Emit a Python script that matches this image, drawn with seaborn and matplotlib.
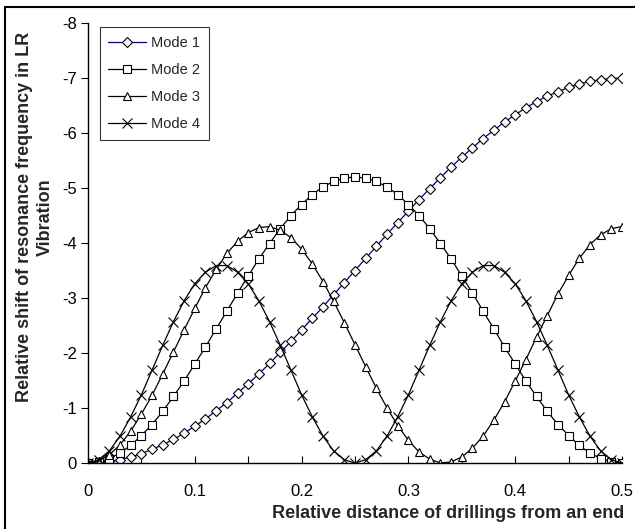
import matplotlib
matplotlib.use("Agg")
import matplotlib.pyplot as plt
from matplotlib.lines import Line2D
from matplotlib.ticker import MultipleLocator
import seaborn as sns
import pandas as pd

# ---- data ----
x_pos = [0.00, 0.01, 0.02, 0.03, 0.04, 0.05, 0.06, 0.07, 0.08, 0.09,
         0.10, 0.11, 0.12, 0.13, 0.14, 0.15, 0.16, 0.17, 0.18, 0.19,
         0.20, 0.21, 0.22, 0.23, 0.24, 0.25, 0.26, 0.27, 0.28, 0.29,
         0.30, 0.31, 0.32, 0.33, 0.34, 0.35, 0.36, 0.37, 0.38, 0.39,
         0.40, 0.41, 0.42, 0.43, 0.44, 0.45, 0.46, 0.47, 0.48, 0.49, 0.50]

mode1 = [0.00, -0.01, -0.03, -0.06, -0.11, -0.17, -0.25, -0.33, -0.43, -0.54,
         -0.67, -0.80, -0.95, -1.10, -1.27, -1.44, -1.62, -1.81, -2.01, -2.21,
         -2.42, -2.63, -2.84, -3.06, -3.28, -3.50, -3.72, -3.94, -4.16, -4.37,
         -4.58, -4.79, -4.99, -5.19, -5.38, -5.56, -5.73, -5.90, -6.05, -6.20,
         -6.33, -6.46, -6.57, -6.67, -6.75, -6.83, -6.89, -6.94, -6.97, -6.99, -7.00]

mode2 = [0.00, -0.02, -0.08, -0.18, -0.32, -0.50, -0.70, -0.94, -1.21, -1.49,
         -1.80, -2.11, -2.44, -2.76, -3.09, -3.40, -3.71, -3.99, -4.26, -4.50,
         -4.70, -4.88, -5.02, -5.12, -5.18, -5.20, -5.18, -5.12, -5.02, -4.88,
         -4.70, -4.50, -4.26, -3.99, -3.71, -3.40, -3.09, -2.76, -2.44, -2.11,
         -1.80, -1.49, -1.21, -0.94, -0.70, -0.50, -0.32, -0.18, -0.08, -0.02, 0.00]

mode3 = [0.00, -0.04, -0.15, -0.33, -0.58, -0.89, -1.23, -1.62, -2.02, -2.42,
         -2.81, -3.19, -3.52, -3.81, -4.03, -4.19, -4.28, -4.30, -4.23, -4.10,
         -3.89, -3.62, -3.30, -2.94, -2.55, -2.15, -1.75, -1.36, -1.00, -0.68,
         -0.41, -0.20, -0.07, 0.00, -0.02, -0.11, -0.27, -0.49, -0.78, -1.11,
         -1.49, -1.88, -2.29, -2.68, -3.07, -3.41, -3.72, -3.97, -4.15, -4.26, -4.30]

mode4 = [0.00, -0.06, -0.22, -0.49, -0.84, -1.24, -1.69, -2.14, -2.57, -2.95,
         -3.26, -3.47, -3.59, -3.59, -3.47, -3.26, -2.95, -2.57, -2.14, -1.69,
         -1.24, -0.84, -0.49, -0.22, -0.06, 0.00, -0.06, -0.22, -0.49, -0.84,
         -1.24, -1.69, -2.14, -2.57, -2.95, -3.26, -3.47, -3.59, -3.59, -3.47,
         -3.26, -2.95, -2.57, -2.14, -1.69, -1.24, -0.84, -0.49, -0.22, -0.06, 0.00]

series_names = ["Mode 1", "Mode 2", "Mode 3", "Mode 4"]
x_tick_values = [0.0, 0.1, 0.2, 0.3, 0.4, 0.5]
x_tick_labels = ["0", "0.1", "0.2", "0.3", "0.4", "0.5"]
y_tick_values = [0, -1, -2, -3, -4, -5, -6, -7, -8]
y_tick_labels = ["0", "-1", "-2", "-3", "-4", "-5", "-6", "-7", "-8"]

# ---- style ----
sns.set_style("white")
plt.rcParams["font.family"] = ["Liberation Sans", "DejaVu Sans"]
plt.rcParams["axes.unicode_minus"] = False

fig = plt.figure(figsize=(6.35, 5.29), dpi=100)
ax = fig.add_axes([88 / 635, 1 - 463 / 529, (622 - 88) / 635, (463 - 23) / 529])

series = [mode1, mode2, mode3, mode4]
markers = ["D", "s", "^", "x"]
line_colors = ["#000080", "black", "black", "black"]
msizes = [5.0, 5.2, 6.4, 7.0]

for name, vals, mk, lc, ms in zip(series_names, series, markers, line_colors, msizes):
    df = pd.DataFrame({"x": x_pos, "y": vals})
    kw = dict(marker=mk, markersize=ms, markeredgecolor="black",
              markeredgewidth=0.8)
    if mk != "x":
        kw["markerfacecolor"] = "white"
    sns.lineplot(data=df, x="x", y="y", ax=ax, color=lc, linewidth=0.9,
                 label=name, **kw)

ax.set_xlim(0, 0.5)
ax.set_ylim(0, -8)
ax.set_xticks(x_tick_values)
ax.set_xticklabels(x_tick_labels)
ax.xaxis.set_minor_locator(MultipleLocator(0.05))
ax.set_yticks(y_tick_values)
ax.set_yticklabels(y_tick_labels)

for side in ["top", "right"]:
    ax.spines[side].set_visible(False)
for side in ["left", "bottom"]:
    ax.spines[side].set_color("black")
    ax.spines[side].set_linewidth(1.0)

ax.tick_params(axis="x", which="both", direction="in", length=5, width=0.8,
               colors="black", labelsize=12, pad=15, bottom=True)
ax.tick_params(axis="y", which="major", direction="out", length=5, width=0.8,
               colors="black", labelsize=12, pad=3, left=True)

ax.set_xlabel("")
ax.set_ylabel("")

fig.text(448 / 635, 1 - 513 / 529, "Relative distance of drillings from an end",
         ha="center", va="center", fontsize=13, fontweight="bold")
fig.text(35 / 635, 1 - 217 / 529,
         "Relative shift of resonance frequency in LR\nVibration",
         ha="center", va="center", rotation=90, fontsize=13,
         fontweight="bold", linespacing=1.35, multialignment="center")

leg = ax.legend(loc="upper left", bbox_to_anchor=(0.022, 0.991),
                borderaxespad=0, frameon=True, fancybox=False, shadow=False,
                fontsize=10.5, handlelength=2.6, labelspacing=0.9,
                borderpad=0.6, handletextpad=0.3)
leg.get_frame().set_edgecolor("black")
leg.get_frame().set_linewidth(0.8)

# partial outer border (left and top visible in the reference)
fig.add_artist(Line2D([5 / 635, 5 / 635], [0, 1 - 7 / 529],
                      transform=fig.transFigure, color="black", linewidth=1.5))
fig.add_artist(Line2D([5 / 635, 1], [1 - 7 / 529, 1 - 7 / 529],
                      transform=fig.transFigure, color="black", linewidth=1.5))

fig.savefig("out.png", dpi=100)
